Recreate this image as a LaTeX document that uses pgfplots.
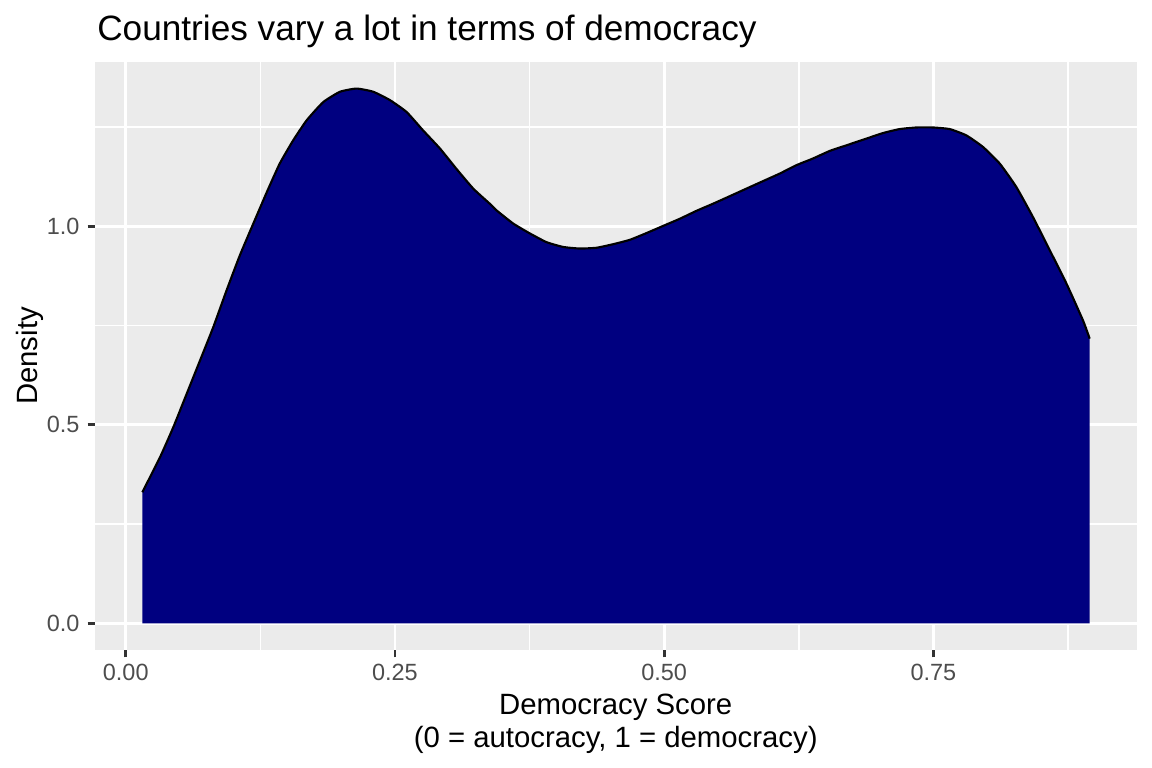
\documentclass[border=0pt]{standalone}
\usepackage{pgfplots}
\pgfplotsset{compat=1.18}
\usepackage{pgfplotstable}
\usepackage{fontspec}
\setmainfont{Liberation Sans}
\definecolor{panelgray}{HTML}{EBEBEB}
\definecolor{ticktext}{HTML}{4D4D4D}
\definecolor{tickline}{HTML}{333333}
\definecolor{navyfill}{HTML}{000080}
\pgfplotstableread{
x y
0.0154 0.330
0.0318 0.418
0.0442 0.494
0.0566 0.578
0.0690 0.662
0.0813 0.746
0.0937 0.839
0.1060 0.927
0.1185 1.007
0.1310 1.086
0.1430 1.158
0.1556 1.217
0.1680 1.267
0.1834 1.313
0.1990 1.339
0.2144 1.347
0.2298 1.339
0.2453 1.318
0.2608 1.288
0.2760 1.242
0.2918 1.196
0.3070 1.145
0.3227 1.095
0.3380 1.057
0.3444 1.040
0.3598 1.007
0.3753 0.982
0.3908 0.960
0.4062 0.948
0.4217 0.944
0.4372 0.946
0.4527 0.955
0.4681 0.966
0.4836 0.983
0.4990 1.001
0.5145 1.019
0.5300 1.039
0.5454 1.057
0.5610 1.076
0.5764 1.095
0.5919 1.114
0.6074 1.133
0.6228 1.154
0.6383 1.171
0.6538 1.190
0.6692 1.204
0.6878 1.221
0.7033 1.235
0.7187 1.245
0.7342 1.249
0.7497 1.249
0.7651 1.245
0.7806 1.229
0.7960 1.200
0.8116 1.158
0.8270 1.099
0.8425 1.023
0.8580 0.940
0.8735 0.856
0.8889 0.763
0.8951 0.717
}\densitydata
\begin{document}
\begin{tikzpicture}
\path[use as bounding box] (0,0) rectangle (432pt,288pt);
\begin{axis}[
  at={(35.6pt,44.25pt)}, anchor=south west,
  scale only axis, width=390.8pt, height=220.5pt,
  xmin=-0.0286, xmax=0.9391, ymin=-0.0673, ymax=1.414,
  axis background/.style={fill=panelgray},
  axis line style={draw=none},
  xtick={0,0.25,0.5,0.75}, xticklabels={0.00,0.25,0.50,0.75},
  ytick={0,0.5,1}, yticklabels={0.0,0.5,1.0},
  minor xtick={0.125,0.375,0.625,0.875},
  minor ytick={0.25,0.75,1.25},
  grid=both,
  major grid style={white, line width=1.07pt},
  minor grid style={white, line width=0.53pt},
  minor tick length=0pt,
  xtick pos=bottom, ytick pos=left,
  tick align=outside, major tick length=2.75pt,
  major tick style={tickline, line width=1.07pt},
  /pgf/number format/assume math mode=true,
  ticklabel style={font=\fontsize{8.8}{10}\selectfont, text=ticktext, inner sep=0pt},
  xticklabel style={anchor=north, yshift=-2.4pt},
  yticklabel style={anchor=east, xshift=-2.85pt},
]
\addplot[fill=navyfill, draw=none, smooth, tension=0.3] table {\densitydata} \closedcycle;
\addplot[black, line width=0.8pt, smooth, tension=0.3] table {\densitydata};
\end{axis}
\node[anchor=base west, inner sep=0pt] at (36.3pt,272.75pt) {\fontsize{13.2}{15}\selectfont Countries vary a lot in terms of democracy};
\node[anchor=base, inner sep=0pt] at (230.9pt,19.9pt) {\fontsize{11}{13}\selectfont Democracy Score};
\node[anchor=base, inner sep=0pt] at (230.9pt,7.8pt) {\fontsize{11}{13}\selectfont (0 = autocracy, 1 = democracy)};
\node[rotate=90, anchor=base, inner sep=0pt] at (14pt,154.5pt) {\fontsize{11}{13}\selectfont Density};
\end{tikzpicture}
\end{document}
